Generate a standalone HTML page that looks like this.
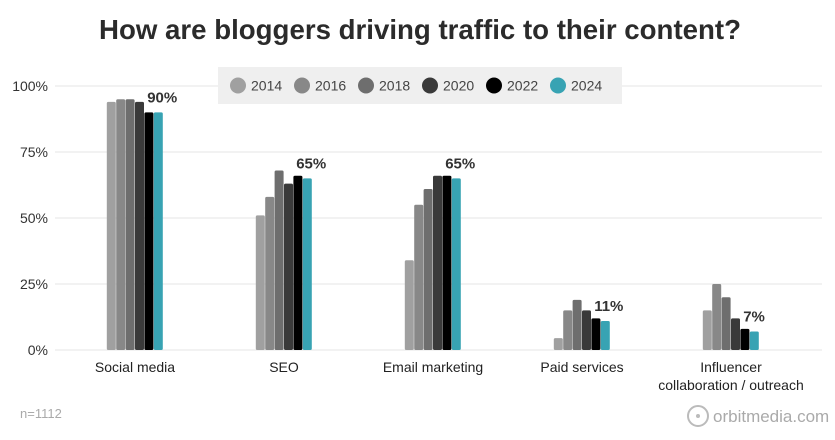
<!DOCTYPE html>
<html><head><meta charset="utf-8"><style>
html,body{margin:0;padding:0;background:#fff;}
svg{display:block;font-family:"Liberation Sans",sans-serif;}
</style></head><body>
<svg id="chart" width="835" height="440" viewBox="0 0 835 440">
<text x="420" y="39" text-anchor="middle" font-size="28" font-weight="bold" fill="#2b2b2b" textLength="642" lengthAdjust="spacingAndGlyphs">How are bloggers driving traffic to their content?</text>
<g id="grid"></g>
<g id="bars"></g>
<g id="legend"></g>
<text x="20" y="418" font-size="13" fill="#aaa">n=1112</text>
<g>
<circle cx="698" cy="416" r="10" fill="none" stroke="#bbb" stroke-width="2"/>
<circle cx="698" cy="416" r="2" fill="#bbb"/>
<text x="713" y="422" font-size="17" fill="#aaa">orbitmedia.com</text>
</g>
</svg>
<script>
const categories=["Social media","SEO","Email marketing","Paid services","Influencer|collaboration / outreach"];
const years=["2014","2016","2018","2020","2022","2024"];
const v2014=[94,51,34,4.5,15];
const v2016=[95,58,55,15,25];
const v2018=[95,68,61,19,20];
const v2020=[94,63,66,15,12];
const v2022=[90,66,66,12,8];
const v2024=[90,65,65,11,7];
const valueLabels=["90%","65%","65%","11%","7%"];
const yTicks=[0,25,50,75,100];
const series=[v2014,v2016,v2018,v2020,v2022,v2024];
const colors=["#a0a0a0","#888888","#6e6e6e","#3a3a3a","#000000","#38a3b3"];
const NS="http://www.w3.org/2000/svg";
const y0=350,y100=86,barW=9.4;
function y(v){return y0-(y0-y100)*v/100;}
function cx(i){return 135+149*i;}
function mk(tag,attrs,parent){const e=document.createElementNS(NS,tag);for(const k in attrs)e.setAttribute(k,attrs[k]);parent.appendChild(e);return e;}
const grid=document.getElementById('grid');
yTicks.forEach(t=>{
  const l=mk('line',{x1:55,x2:822,y1:y(t),y2:y(t),stroke:'#e6e6e6','stroke-width':1},grid);
  
  
  const tx=mk('text',{x:48,y:y(t)+5,'text-anchor':'end','font-size':14,fill:'#333'},grid);
  tx.textContent=t+'%';
  
  
});
const bars=document.getElementById('bars');
categories.forEach((c,i)=>{
  const left=cx(i)-barW*3;
  series.forEach((s,j)=>{
    const r=mk('rect',{x:left+j*barW,y:y(s[i]),width:barW-0.4,height:y0-y(s[i]),fill:colors[j],rx:1.5},bars);
    
    
  });
  const vl=mk('text',{x:left+6*barW-16,y:y(series[5][i])-10,'font-size':15,'font-weight':'bold',fill:'#333'},bars);
  vl.textContent=valueLabels[i];
  
  
  c.split('|').forEach((line,k)=>{
    const t=mk('text',{x:cx(i),y:372+k*18,'text-anchor':'middle','font-size':14,fill:'#222'},bars);
    t.textContent=line;
    
    
  });
});
const lg=document.getElementById('legend');
const bg=mk('rect',{x:218,y:67,width:404,height:37,fill:'#efefef'},lg);


years.forEach((yr,j)=>{
  const g=mk('g',{},lg);
  
  
  mk('circle',{cx:238+j*64,cy:85.5,r:8,fill:colors[j]},g);
  const t=mk('text',{x:251+j*64,y:90.5,'font-size':14,fill:'#444'},g);
  t.textContent=yr;
});
</script>
</body></html>
